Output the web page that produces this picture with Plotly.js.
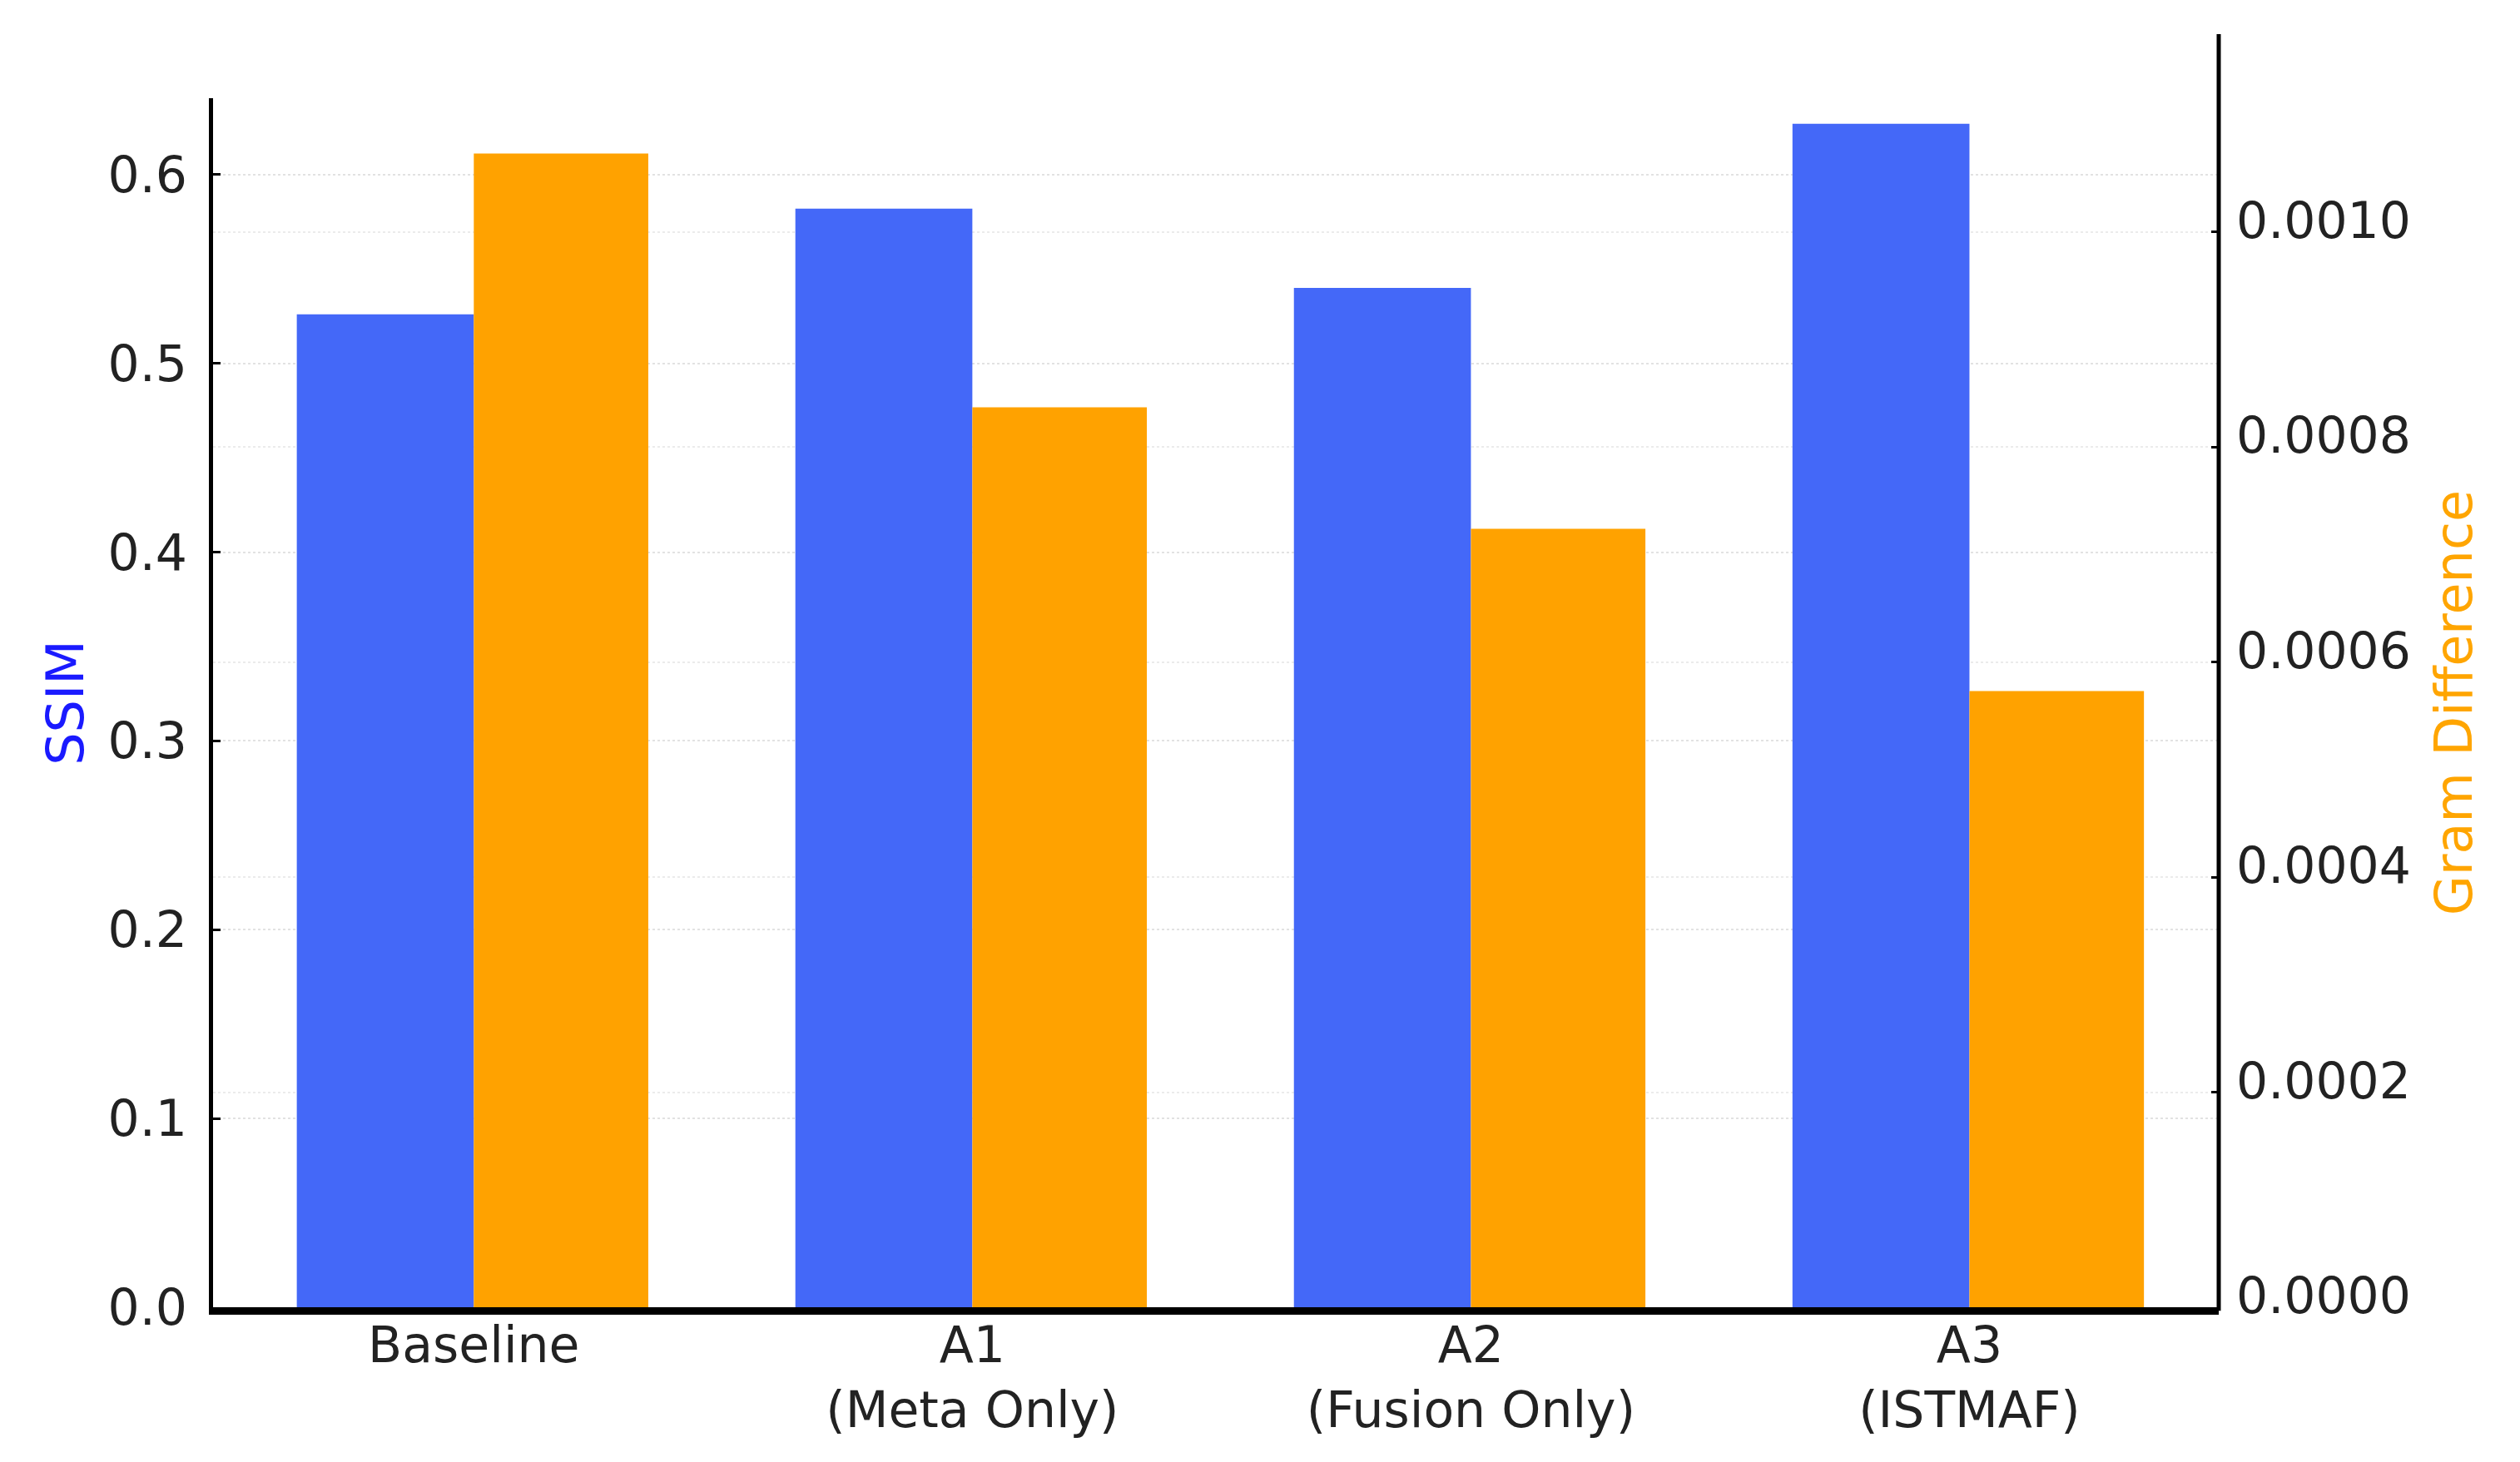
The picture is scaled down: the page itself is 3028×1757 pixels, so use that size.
<!DOCTYPE html>
<html>
<head>
<meta charset="utf-8">
<script src="https://cdn.plot.ly/plotly-3.0.1.min.js"></script>
<style>
  html, body { margin: 0; padding: 0; background: #ffffff; }
  #chart { width: 3028px; height: 1757px; }
</style>
</head>
<body>
<div id="chart"></div>
<script>
// ---- data ----
const categories = ["Baseline", "A1<br>(Meta Only)", "A2<br>(Fusion Only)", "A3<br>(ISTMAF)"];
const ssimValues = [0.526, 0.582, 0.540, 0.627];
const gramValues = [0.001073, 0.000837, 0.000724, 0.000573];
const ssimTicks = [0, 0.1, 0.2, 0.3, 0.4, 0.5, 0.6];
const gramTicks = [0, 0.0002, 0.0004, 0.0006, 0.0008, 0.0010];

const FONT = "DejaVu Sans";
const blue = "#4468F8";
const orange = "#FFA200";

const traces = [
  {
    type: "bar", name: "SSIM", x: categories, y: ssimValues,
    yaxis: "y", width: 0.355, offset: -0.355,
    marker: { color: blue, line: { width: 0 } },
    hoverinfo: "x+y"
  },
  {
    type: "bar", name: "Gram Difference", x: categories, y: gramValues,
    yaxis: "y2", width: 0.35, offset: 0,
    marker: { color: orange, line: { width: 0 } },
    hoverinfo: "x+y"
  }
];

const layout = {
  width: 3028, height: 1757,
  margin: { l: 256, r: 362, t: 118, b: 186, pad: 0 },
  paper_bgcolor: "#ffffff", plot_bgcolor: "#ffffff",
  showlegend: false, barmode: "overlay",
  font: { family: FONT, size: 60, color: "#222222" },
  xaxis: {
    type: "category", range: [-0.523, 3.50],
    showline: true, linecolor: "#000000", linewidth: 9,
    ticks: "", showgrid: false, zeroline: false,
    tickfont: { family: FONT, size: 60, color: "#222222" },
    ticklabelstandoff: -15
  },
  yaxis: {
    range: [0, 0.6405], tickvals: ssimTicks, tickformat: ".1f",
    showline: true, linecolor: "#000000", linewidth: 5,
    ticks: "inside", ticklen: 9, tickwidth: 3, tickcolor: "#000000",
    showgrid: true, gridcolor: "#e2e2e2", gridwidth: 2, griddash: "dot",
    zeroline: false,
    tickfont: { family: FONT, size: 60, color: "#222222" },
    ticklabelstandoff: 14,
    title: { text: "SSIM", font: { family: FONT, size: 62, color: "#1a1aff" }, standoff: 10 }
  },
  yaxis2: {
    overlaying: "y", side: "right",
    range: [0, 0.0011245], tickvals: gramTicks, tickformat: ".4f",
    showline: false,
    ticks: "inside", ticklen: 9, tickwidth: 3, tickcolor: "#000000",
    showgrid: true, gridcolor: "#ebebeb", gridwidth: 2, griddash: "dot",
    zeroline: false,
    tickfont: { family: FONT, size: 60, color: "#222222" },
    ticklabelstandoff: 20,
    ticklabelshift: -14,
    title: { text: "Gram Difference", font: { family: FONT, size: 62, color: "#FFA500" }, standoff: 30 }
  },
  shapes: [
    { type: "line", xref: "paper", yref: "paper", x0: 1, x1: 1, y0: -0.003, y1: 1.053,
      line: { color: "#000000", width: 5 }, layer: "above" }
  ]
};

Plotly.newPlot("chart", traces, layout, { staticPlot: true, displayModeBar: false });
</script>
</body>
</html>
